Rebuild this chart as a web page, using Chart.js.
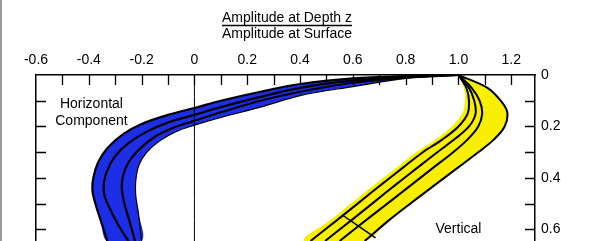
<!DOCTYPE html>
<html>
<head>
<meta charset="utf-8">
<script src="https://cdn.jsdelivr.net/npm/chart.js@4.4.1/dist/chart.umd.min.js"></script>
<style>
  html, body { margin: 0; padding: 0; background: #fff; }
  #wrap { width: 599px; height: 241px; position: relative; }
  #edge { position: absolute; left: 0; top: 0; width: 2px; height: 241px; background: #9a9a9a; }
</style>
</head>
<body>
<div id="wrap"><canvas id="depthChart"></canvas><div id="edge"></div></div>
<script>
// amplitude at depth z / amplitude at surface, pairs are [amplitude, depth]
const xTicks = [-0.6, -0.4, -0.2, 0, 0.2, 0.4, 0.6, 0.8, 1.0, 1.2];
const depthTicks = [0, 0.2, 0.4, 0.6];

/* ---- horizontal component (blue band) ---- */
const horizOuter = [[1, 0], [0.8, 0.004], [0.6, 0.013], [0.4, 0.035], [0.25, 0.065], [0.1, 0.1], [0, 0.128],
  [-0.1, 0.155], [-0.2, 0.19], [-0.27, 0.23], [-0.33, 0.285], [-0.365, 0.34], [-0.383, 0.4], [-0.386, 0.45],
  [-0.375, 0.5], [-0.355, 0.565], [-0.33, 0.645]];
const horizMiddle = [[1, 0], [0.8, 0.007], [0.6, 0.022], [0.4, 0.05], [0.25, 0.085], [0.1, 0.125], [0, 0.155],
  [-0.1, 0.185], [-0.18, 0.22], [-0.25, 0.265], [-0.3, 0.315], [-0.33, 0.37], [-0.343, 0.42], [-0.34, 0.47],
  [-0.32, 0.52], [-0.29, 0.58], [-0.25, 0.645]];
const horizInner = [[1, 0], [0.8, 0.01], [0.6, 0.03], [0.4, 0.065], [0.25, 0.1], [0.1, 0.145], [0, 0.178],
  [-0.08, 0.205], [-0.15, 0.24], [-0.21, 0.29], [-0.25, 0.34], [-0.27, 0.39], [-0.275, 0.44], [-0.265, 0.5],
  [-0.248, 0.56], [-0.225, 0.645]];
const horizEdge = [[1, 0], [0.8, 0.013], [0.6, 0.045], [0.4, 0.08], [0.25, 0.125], [0.1, 0.165], [0, 0.195],
  [-0.07, 0.22], [-0.13, 0.255], [-0.18, 0.3], [-0.21, 0.35], [-0.222, 0.41], [-0.222, 0.47], [-0.213, 0.53],
  [-0.2, 0.645]];

/* ---- vertical component (yellow band) ---- */
const vertLeft = [[1, 0], [1.02, 0.05], [1.025, 0.1], [1.015, 0.15], [0.975, 0.2], [0.915, 0.25], [0.84, 0.3],
  [0.765, 0.36], [0.69, 0.42], [0.605, 0.49], [0.52, 0.56], [0.415, 0.645]];
const vertA = [[1, 0], [1.03, 0.05], [1.04, 0.1], [1.035, 0.15], [1.0, 0.2], [0.94, 0.25], [0.865, 0.3],
  [0.79, 0.36], [0.715, 0.42], [0.63, 0.49], [0.545, 0.56], [0.44, 0.645]];
const vertB = [[1, 0], [1.04, 0.05], [1.06, 0.1], [1.065, 0.15], [1.04, 0.2], [0.985, 0.25], [0.92, 0.3],
  [0.845, 0.36], [0.77, 0.42], [0.685, 0.49], [0.6, 0.56], [0.495, 0.645]];
const vertC = [[1, 0], [1.05, 0.05], [1.08, 0.1], [1.09, 0.15], [1.075, 0.2], [1.035, 0.25], [0.98, 0.3],
  [0.905, 0.36], [0.83, 0.42], [0.743, 0.49], [0.655, 0.56], [0.55, 0.645]];
const vertEdge = [[1, 0], [1.11, 0.05], [1.16, 0.1], [1.185, 0.145], [1.175, 0.2], [1.135, 0.25], [1.075, 0.3],
  [0.998, 0.36], [0.92, 0.42], [0.83, 0.49], [0.742, 0.56], [0.645, 0.645]];

const zeroLine = [[0, 0], [0, 0.645]];
const pointer = [[0.56, 0.544], [0.686, 0.633]];

const notes = [
  { text: 'Horizontal', x: -0.39, y: 0.128 },
  { text: 'Component', x: -0.39, y: 0.194 },
  { text: 'Vertical', x: 1.0, y: 0.614 }
];

const FONT = "'Liberation Sans', Arial, Helvetica, sans-serif";
Chart.defaults.font.family = FONT;
Chart.defaults.font.size = 14;
Chart.defaults.color = '#000';

const pts = arr => arr.map(([x, y]) => ({ x, y }));

function curve(data, width) {
  return { data: pts(data), showLine: true, borderColor: '#000', borderWidth: width,
    pointRadius: 0, tension: 0.35, fill: false, order: 1 };
}
function band(left, right, color) {
  return { data: pts(left.concat(right.slice().reverse())), showLine: true, borderWidth: 0,
    borderColor: color, backgroundColor: color, pointRadius: 0, tension: 0.35, fill: 'shape', order: 3 };
}

// no extra room for the end tick labels of the depth axes
const noPad = s => { s.paddingTop = 0; s.paddingBottom = 0; };

const decor = {
  id: 'decor',
  afterDraw(chart) {
    const { ctx, chartArea: a, scales: { x, y } } = chart;
    ctx.save();
    // inner tick marks
    ctx.strokeStyle = '#000';
    ctx.lineWidth = 1.3;
    ctx.beginPath();
    for (let i = -5; i <= 12; i++) {
      const px = Math.round(x.getPixelForValue(i / 10)) + 0.5;
      ctx.moveTo(px, a.top); ctx.lineTo(px, a.top + 10);
    }
    for (let i = 1; i <= 6; i++) {
      const py = Math.round(y.getPixelForValue(i / 10)) + 0.5;
      ctx.moveTo(a.left, py); ctx.lineTo(a.left + 10, py);
      ctx.moveTo(a.right, py); ctx.lineTo(a.right - 10, py);
    }
    ctx.stroke();

    // fraction title
    ctx.font = '14px ' + FONT;
    ctx.fillStyle = '#000';
    ctx.textAlign = 'center';
    ctx.textBaseline = 'alphabetic';
    const cx = (a.left + a.right) / 2 + 1.5;
    ctx.fillText('Amplitude at Depth z', cx, 22);
    ctx.fillText('Amplitude at Surface', cx, 38);
    const w = ctx.measureText('Amplitude at Surface').width;
    ctx.lineWidth = 1.3;
    ctx.beginPath();
    ctx.moveTo(cx - w / 2, 25.5); ctx.lineTo(cx + w / 2, 25.5);
    ctx.stroke();

    // component labels
    notes.forEach(n => ctx.fillText(n.text, x.getPixelForValue(n.x), y.getPixelForValue(n.y)));
    ctx.restore();
  }
};

new Chart(document.getElementById('depthChart'), {
  type: 'scatter',
  data: {
    datasets: [
      curve(zeroLine, 1),
      curve(pointer, 1.5),
      curve(horizOuter, 2.2),
      curve(horizMiddle, 2.2),
      curve(horizInner, 2.2),
      curve(horizEdge, 1.2),
      curve(vertA, 2),
      curve(vertB, 2),
      curve(vertC, 2),
      curve(vertEdge, 2),
      band(horizOuter, horizEdge, '#1c2fe6'),
      band(vertLeft, vertEdge, '#f8ee00')
    ]
  },
  options: {
    responsive: true,
    maintainAspectRatio: false,
    animation: false,
    layout: { padding: 0 },
    plugins: { legend: { display: false }, tooltip: { enabled: false }, title: { display: false } },
    scales: {
      x: {
        type: 'linear', position: 'top', min: -0.6, max: 1.29,
        afterBuildTicks: s => { s.ticks = xTicks.map(v => ({ value: v })); },
        ticks: { padding: 6, maxRotation: 0, autoSkip: false,
          callback: v => v === 0 ? '0' : v.toFixed(1) },
        grid: { display: false, drawTicks: false },
        border: { display: true, color: '#000', width: 1.5 },
        afterFit: s => { s.height = 75; }
      },
      y: {
        type: 'linear', position: 'right', reverse: true, min: 0, max: 0.645,
        afterBuildTicks: s => { s.ticks = depthTicks.map(v => ({ value: v })); },
        ticks: { padding: 6, callback: v => v === 0 ? '0' : v.toFixed(1) },
        grid: { display: false, drawTicks: false },
        border: { display: true, color: '#000', width: 1.5 },
        afterFit: s => { s.width = 64; noPad(s); }
      },
      yl: {
        type: 'linear', position: 'left', reverse: true, min: 0, max: 0.645,
        ticks: { display: false },
        grid: { display: false, drawTicks: false },
        border: { display: true, color: '#000', width: 1.5 },
        afterFit: s => { s.width = 36; noPad(s); }
      }
    }
  },
  plugins: [decor]
});
</script>
</body>
</html>
